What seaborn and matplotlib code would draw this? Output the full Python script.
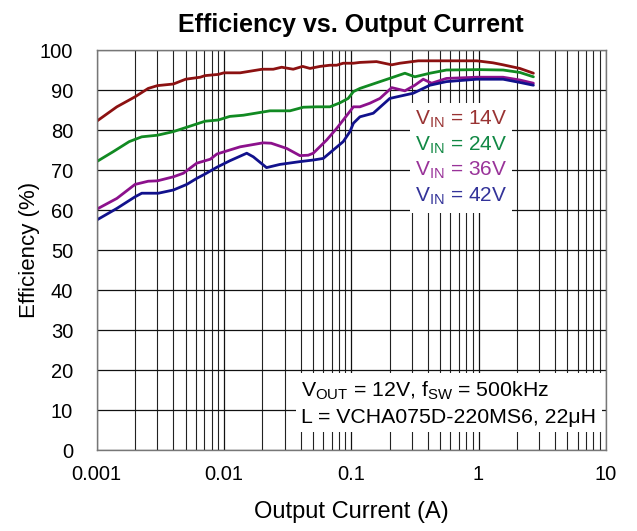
import numpy as np
import pandas as pd
import matplotlib
matplotlib.use("Agg")
import matplotlib.pyplot as plt
from matplotlib.lines import Line2D
from matplotlib.ticker import FixedLocator, FixedFormatter, LogLocator
import seaborn as sns

# Data (current in A, efficiency in %)
i_14v = [0.001, 0.00144, 0.002, 0.00254, 0.003, 0.004, 0.005, 0.0065, 0.0071, 0.009, 0.01,
         0.0134, 0.02, 0.0244, 0.0284, 0.035, 0.0415, 0.0474, 0.0568, 0.068, 0.0768, 0.0865,
         0.104, 0.117, 0.158, 0.208, 0.241, 0.336, 0.97, 1.3, 1.56, 2.11, 2.7]
e_14v = [82.2, 85.8, 88.3, 90.4, 91.1, 91.5, 92.7, 93.2, 93.6, 93.9, 94.3,
         94.3, 95.2, 95.2, 95.7, 95.2, 95.9, 95.4, 95.9, 96.2, 96.2, 96.7,
         96.7, 96.9, 97.1, 96.3, 96.7, 97.3, 97.3, 96.8, 96.3, 95.4, 94.2]

i_24v = [0.001, 0.00135, 0.0018, 0.00226, 0.003, 0.004, 0.0057, 0.0071, 0.009, 0.0111,
         0.0142, 0.023, 0.033, 0.042, 0.0535, 0.068, 0.0815, 0.0946, 0.104, 0.117, 0.2,
         0.264, 0.316, 0.415, 0.56, 1.0, 1.56, 2.11, 2.7]
e_24v = [72.1, 74.6, 77.1, 78.3, 78.7, 79.6, 81.2, 82.2, 82.5, 83.4,
         83.7, 84.8, 84.8, 85.7, 85.8, 85.8, 86.8, 87.9, 89.6, 90.4, 92.9,
         94.2, 93.3, 94.2, 95.0, 95.1, 95.0, 94.4, 93.3]

i_36v = [0.001, 0.00144, 0.002, 0.00254, 0.003, 0.004, 0.0048, 0.0061, 0.0078, 0.0088,
         0.0111, 0.0134, 0.0203, 0.0235, 0.0311, 0.0395, 0.0459, 0.0503, 0.0641, 0.0768,
         0.0865, 0.104, 0.117, 0.14, 0.168, 0.208, 0.264, 0.316, 0.368, 0.428, 0.56, 0.97,
         1.56, 2.11, 2.7]
e_36v = [60.2, 62.9, 66.4, 67.2, 67.3, 68.3, 69.2, 71.7, 72.7, 74.0,
         75.0, 75.8, 76.8, 76.7, 75.4, 73.6, 73.7, 74.2, 77.5, 80.4,
         82.5, 85.8, 85.8, 86.7, 87.9, 90.6, 89.8, 91.2, 92.7, 91.7, 92.9, 93.2,
         93.2, 92.5, 91.7]

i_42v = [0.001, 0.00144, 0.002, 0.00226, 0.00305, 0.004, 0.0051, 0.0061, 0.0071, 0.0088,
         0.0111, 0.0151, 0.017, 0.0216, 0.0275, 0.0395, 0.0503, 0.0603, 0.0722, 0.0865,
         0.0977, 0.104, 0.117, 0.149, 0.201, 0.307, 0.415, 0.56, 0.97, 1.56, 2.11, 2.7]
e_42v = [57.5, 60.4, 63.3, 64.2, 64.2, 65.0, 66.4, 67.9, 69.0, 70.7,
         72.3, 74.2, 73.3, 70.6, 71.4, 72.1, 72.5, 72.9, 75.0, 77.1,
         79.6, 81.7, 83.3, 84.2, 87.9, 89.2, 91.2, 92.1, 92.7, 92.7, 91.9, 91.2]

series_names = ["14V", "24V", "36V", "42V"]
line_colors = ["#8c1111", "#118a22", "#8c118c", "#11118c"]
text_colors = ["#993333", "#118844", "#993399", "#333399"]

x_ticks = [0.001, 0.01, 0.1, 1, 10]
x_tick_labels = ["0.001", "0.01", "0.1", "1", "10"]
y_ticks = list(range(0, 101, 10))

frames = []
for name, cur, eff in zip(series_names,
                          [i_14v, i_24v, i_36v, i_42v],
                          [e_14v, e_24v, e_36v, e_42v]):
    frames.append(pd.DataFrame({"Current": cur, "Efficiency": eff, "VIN": name}))
df = pd.concat(frames, ignore_index=True)

sns.set_style("white")
plt.rcParams["font.family"] = ["Liberation Sans", "DejaVu Sans"]
plt.rcParams["mathtext.fontset"] = "custom"
plt.rcParams["mathtext.rm"] = "Liberation Sans"
plt.rcParams["mathtext.it"] = "Liberation Sans"
plt.rcParams["text.color"] = "black"
plt.rcParams["axes.labelcolor"] = "black"
plt.rcParams["xtick.color"] = "black"
plt.rcParams["ytick.color"] = "black"

fig = plt.figure(figsize=(6.37, 5.31), dpi=100)
ax = fig.add_axes([0.1518, 0.1525, 0.7992, 0.7533])

sns.lineplot(data=df, x="Current", y="Efficiency", hue="VIN", hue_order=series_names,
             palette=line_colors, linewidth=2.0, ax=ax, legend=False, sort=False,
             estimator=None)

ax.set_xscale("log")
ax.set_xlim(0.001, 10)
ax.set_ylim(0, 100)

# grid
ax.xaxis.set_major_locator(FixedLocator(x_ticks))
ax.xaxis.set_major_formatter(FixedFormatter(x_tick_labels))
ax.xaxis.set_minor_locator(LogLocator(base=10, subs=np.arange(2, 10)))
ax.set_yticks(y_ticks)
ax.grid(True, which="major", axis="both", color="#111111", linewidth=0.9)
ax.grid(True, which="minor", axis="x", color="#222222", linewidth=0.8)
ax.set_axisbelow(True)
ax.tick_params(axis="x", which="both", length=0, pad=11, labelsize=14.5)
ax.tick_params(axis="y", which="both", length=4, direction="in", pad=17, labelsize=14.5,
               color="#888888")
ax.tick_params(axis="x", which="minor", labelbottom=False)
for s in ax.spines.values():
    s.set_color("#777777")
    s.set_linewidth(1.0)

ax.set_title("Efficiency vs. Output Current", fontsize=18, fontweight="bold", pad=13)
ax.set_xlabel("Output Current (A)", fontsize=17, labelpad=12)
ax.set_ylabel("Efficiency (%)", fontsize=16, labelpad=0)

# VIN labels: coloured text on a white box
handles = [Line2D([], [], linestyle="none") for _ in series_names]
labels = ["V$_{\\rm IN}$ = " + n for n in series_names]
leg = ax.legend(handles, labels, loc="upper left", bbox_to_anchor=(0.615, 0.867),
                handlelength=0, handletextpad=0, labelspacing=0.22, fontsize=15,
                frameon=True, fancybox=False, borderpad=0.25, borderaxespad=0,
                labelcolor=text_colors)
leg.get_frame().set_facecolor("white")
leg.get_frame().set_edgecolor("none")
leg.get_frame().set_alpha(1.0)

# conditions box
ax.text(0.402, 0.175,
        "V$_{\\rm OUT}$ = 12V, f$_{\\rm SW}$ = 500kHz\nL = VCHA075D-220MS6, 22\u03bcH",
        transform=ax.transAxes, fontsize=15.3, va="top", ha="left", linespacing=1.35,
        bbox=dict(facecolor="white", edgecolor="none", boxstyle="square,pad=0.25"),
        zorder=5)

fig.savefig("out.png", dpi=100)
plt.close(fig)
